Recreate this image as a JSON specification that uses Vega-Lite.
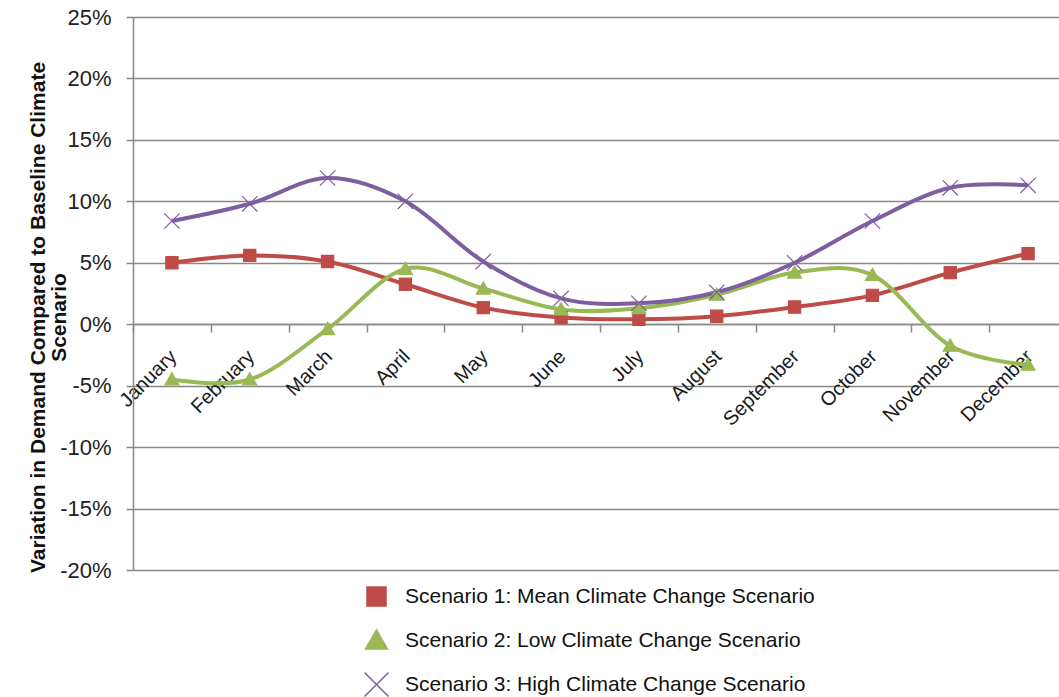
{
  "$schema": "https://vega.github.io/schema/vega-lite/v6.json",
  "width": 926,
  "height": 553,
  "autosize": {"type": "none"},
  "padding": {"left": 133, "top": 17, "right": 0, "bottom": 127},
  "background": "white",
  "config": {
    "view": {"stroke": null},
    "font": "Liberation Sans",
    "legend": {
      "orient": "none",
      "legendX": 232.5,
      "legendY": 568.5,
      "direction": "vertical",
      "padding": 0,
      "labelFontSize": 21,
      "labelColor": "#111111",
      "labelOffset": 17.5,
      "labelLimit": 0,
      "rowPadding": 17,
      "symbolSize": 400
    }
  },
  "data": {
    "values": [
      {"month": "January", "series": "Scenario 1: Mean Climate Change Scenario", "value": 5.0},
      {"month": "February", "series": "Scenario 1: Mean Climate Change Scenario", "value": 5.6},
      {"month": "March", "series": "Scenario 1: Mean Climate Change Scenario", "value": 5.1},
      {"month": "April", "series": "Scenario 1: Mean Climate Change Scenario", "value": 3.25},
      {"month": "May", "series": "Scenario 1: Mean Climate Change Scenario", "value": 1.35},
      {"month": "June", "series": "Scenario 1: Mean Climate Change Scenario", "value": 0.55},
      {"month": "July", "series": "Scenario 1: Mean Climate Change Scenario", "value": 0.4},
      {"month": "August", "series": "Scenario 1: Mean Climate Change Scenario", "value": 0.65},
      {"month": "September", "series": "Scenario 1: Mean Climate Change Scenario", "value": 1.4},
      {"month": "October", "series": "Scenario 1: Mean Climate Change Scenario", "value": 2.35},
      {"month": "November", "series": "Scenario 1: Mean Climate Change Scenario", "value": 4.2},
      {"month": "December", "series": "Scenario 1: Mean Climate Change Scenario", "value": 5.75},
      {"month": "January", "series": "Scenario 2: Low Climate Change Scenario", "value": -4.5},
      {"month": "February", "series": "Scenario 2: Low Climate Change Scenario", "value": -4.5},
      {"month": "March", "series": "Scenario 2: Low Climate Change Scenario", "value": -0.4},
      {"month": "April", "series": "Scenario 2: Low Climate Change Scenario", "value": 4.5},
      {"month": "May", "series": "Scenario 2: Low Climate Change Scenario", "value": 2.9},
      {"month": "June", "series": "Scenario 2: Low Climate Change Scenario", "value": 1.2},
      {"month": "July", "series": "Scenario 2: Low Climate Change Scenario", "value": 1.3},
      {"month": "August", "series": "Scenario 2: Low Climate Change Scenario", "value": 2.4},
      {"month": "September", "series": "Scenario 2: Low Climate Change Scenario", "value": 4.2},
      {"month": "October", "series": "Scenario 2: Low Climate Change Scenario", "value": 4.0},
      {"month": "November", "series": "Scenario 2: Low Climate Change Scenario", "value": -1.75},
      {"month": "December", "series": "Scenario 2: Low Climate Change Scenario", "value": -3.3},
      {"month": "January", "series": "Scenario 3: High Climate Change Scenario", "value": 8.4},
      {"month": "February", "series": "Scenario 3: High Climate Change Scenario", "value": 9.8},
      {"month": "March", "series": "Scenario 3: High Climate Change Scenario", "value": 11.9},
      {"month": "April", "series": "Scenario 3: High Climate Change Scenario", "value": 10.0},
      {"month": "May", "series": "Scenario 3: High Climate Change Scenario", "value": 5.1},
      {"month": "June", "series": "Scenario 3: High Climate Change Scenario", "value": 2.1},
      {"month": "July", "series": "Scenario 3: High Climate Change Scenario", "value": 1.7},
      {"month": "August", "series": "Scenario 3: High Climate Change Scenario", "value": 2.6},
      {"month": "September", "series": "Scenario 3: High Climate Change Scenario", "value": 5.0},
      {"month": "October", "series": "Scenario 3: High Climate Change Scenario", "value": 8.4},
      {"month": "November", "series": "Scenario 3: High Climate Change Scenario", "value": 11.1},
      {"month": "December", "series": "Scenario 3: High Climate Change Scenario", "value": 11.3}
    ]
  },
  "encoding": {
    "x": {
      "field": "month",
      "type": "ordinal",
      "sort": ["January", "February", "March", "April", "May", "June", "July", "August", "September", "October", "November", "December"],
      "scale": {"type": "band", "paddingInner": 0, "paddingOuter": 0, "range": [0, 934]},
      "axis": {
        "orient": "bottom",
        "offset": -246,
        "title": null,
        "grid": false,
        "domainColor": "#888888",
        "domainWidth": 1.5,
        "tickColor": "#888888",
        "tickWidth": 1.5,
        "tickSize": 8,
        "tickBand": "extent",
        "labelAngle": -45,
        "labelAlign": "right",
        "labelBaseline": "top",
        "labelFontSize": 20,
        "labelColor": "#1a1a1a",
        "labelPadding": 14,
        "labelOffset": -6
      }
    },
    "y": {
      "field": "value",
      "type": "quantitative",
      "scale": {"domain": [-20, 25], "nice": false, "zero": false},
      "axis": {
        "values": [-20, -15, -10, -5, 0, 5, 10, 15, 20, 25],
        "labelExpr": "datum.value + '%'",
        "grid": true,
        "gridColor": "#888888",
        "gridWidth": 1.5,
        "domainColor": "#888888",
        "domainWidth": 1.5,
        "tickColor": "#888888",
        "tickWidth": 1.5,
        "tickSize": 7,
        "labelFontSize": 22,
        "labelColor": "#222222",
        "labelPadding": 15,
        "title": ["Variation in Demand Compared to Baseline Climate", "Scenario"],
        "titleFontSize": 21,
        "titleFontWeight": "bold",
        "titleColor": "#111111",
        "titleAngle": -90,
        "titleAlign": "center",
        "titleBaseline": "middle",
        "titleLineHeight": 21,
        "titleX": -95,
        "titleY": 300
      }
    }
  },
  "layer": [
    {
      "mark": {"type": "line", "interpolate": "cardinal", "strokeWidth": 4},
      "encoding": {
        "color": {
          "field": "series",
          "type": "nominal",
          "scale": {
            "domain": ["Scenario 1: Mean Climate Change Scenario", "Scenario 2: Low Climate Change Scenario", "Scenario 3: High Climate Change Scenario"],
            "range": ["#BE4B48", "#98B954", "#7D5FA0"]
          },
          "legend": {"title": null}
        }
      }
    },
    {
      "mark": {"type": "point", "filled": true, "size": 164, "strokeWidth": 1.2, "opacity": 1},
      "encoding": {
        "shape": {
          "field": "series",
          "type": "nominal",
          "scale": {
            "domain": ["Scenario 1: Mean Climate Change Scenario", "Scenario 2: Low Climate Change Scenario", "Scenario 3: High Climate Change Scenario"],
            "range": ["M-0.95,-0.95H0.95V0.95H-0.95Z", "M0,-1.05L1.1,0.85H-1.1Z", "M-1.2,-1.2L1.2,1.2M-1.2,1.2L1.2,-1.2"]
          },
          "legend": {"title": null}
        },
        "fill": {
          "field": "series",
          "type": "nominal",
          "scale": {
            "domain": ["Scenario 1: Mean Climate Change Scenario", "Scenario 2: Low Climate Change Scenario", "Scenario 3: High Climate Change Scenario"],
            "range": ["#BE4B48", "#98B954", "#7D5FA0"]
          },
          "legend": null
        },
        "stroke": {
          "field": "series",
          "type": "nominal",
          "scale": {
            "domain": ["Scenario 1: Mean Climate Change Scenario", "Scenario 2: Low Climate Change Scenario", "Scenario 3: High Climate Change Scenario"],
            "range": ["#BE4B48", "#98B954", "#7D5FA0"]
          },
          "legend": null
        }
      }
    }
  ]
}
